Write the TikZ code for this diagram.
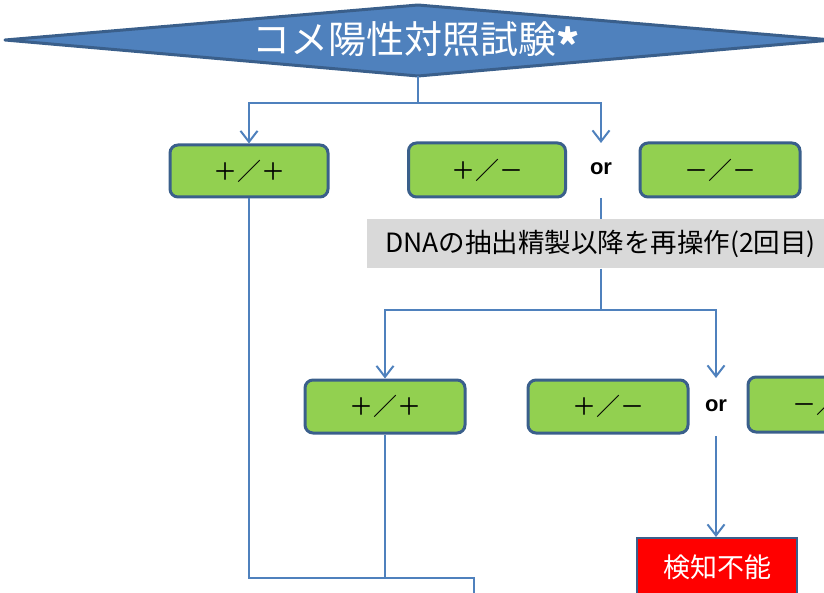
\documentclass[tikz,border=0pt]{standalone}
\usepackage{fontspec}
\newfontfamily\jp{Noto Sans CJK JP}
\newfontfamily\orfont{Liberation Sans}
\usetikzlibrary{arrows.meta}
\definecolor{linec}{HTML}{4F81BD}
\definecolor{bordc}{HTML}{3A5F8B}
\definecolor{greenf}{HTML}{92D050}
\definecolor{grayf}{HTML}{D9D9D9}
\definecolor{redf}{HTML}{FF0000}
\tikzset{
  res/.style={draw=bordc, line width=3pt, fill=greenf, rounded corners=8pt,
    minimum width=158pt, minimum height=52pt, inner sep=0pt,
    font=\jp\fontsize{24}{24}\selectfont},
  conn/.style={draw=linec, line width=2.4pt},
  arr/.style={conn, -{Straight Barb[length=11pt,width=17pt,line width=2pt]}},
  ortext/.style={font=\orfont\bfseries\fontsize{22}{22}\selectfont, inner sep=0pt},
}
\begin{document}
\begin{tikzpicture}[x=1pt,y=-1pt]
\useasboundingbox (0,0) rectangle (824,593);
% decision diamond
\coordinate (dl) at (5,40);
\coordinate (dt) at (418,5);
\coordinate (dr) at (832,40);
\coordinate (db) at (418,76);
\filldraw[fill=linec, draw=bordc, line width=3pt, line join=round] (dl) -- (dt) -- (dr) -- (db) -- cycle;
\node[text=white, font=\jp\fontsize{38}{38}\selectfont, inner sep=0pt] (title) at (416,42) {コメ陽性対照試験\raisebox{-0.22em}{\bfseries\fontsize{44}{44}\selectfont*}};
% first row
\node[res] (a1) at (249,171) {＋／＋};
\node[res, minimum width=157pt, minimum height=54pt] (a2) at (487,170) {＋／－};
\node[ortext] (or1) at (601,169) {or};
\node[res, minimum width=160pt, minimum height=54pt] (a3) at (720,170) {－／－};
\coordinate (j1) at (418,103);
\coordinate (or1t) at (601,143);
\coordinate (or1b) at (601,198);
\draw[conn] (db) -- (j1);
\draw[arr] (j1) -| (a1.north);
\draw[arr] (j1) -| (or1t);
% redo box
\node[fill=grayf, anchor=west, inner xsep=18pt, minimum height=49pt, text width=470pt, align=left,
      font=\jp\fontsize{26.5}{26.5}\selectfont] (redo) at (367,244) {DNAの抽出精製以降を再操作(2回目)};
\draw[conn] (or1b) -- (or1b |- redo.north);
\coordinate (j2) at (601,310);
\draw[conn] (redo.south -| j2) -- (j2);
% second row
\node[res, minimum width=160pt, minimum height=53pt] (b1) at (385,406.5) {＋／＋};
\node[res, minimum width=160pt, minimum height=53pt] (b2) at (608,406.5) {＋／－};
\node[ortext] (or2) at (716,406) {or};
\node[res, minimum width=160pt, minimum height=55pt] (b3) at (828,404.5) {－／－};
\draw[arr] (j2) -| (b1.north);
\coordinate (or2t) at (716,378);
\draw[arr] (j2) -| (or2t);
% not detectable
\node[draw=bordc, line width=2pt, fill=redf, text=white, minimum width=160pt, minimum height=58pt,
      inner sep=0pt, font=\jp\fontsize{27}{27}\selectfont] (nd) at (717,567) {検知不能};
\coordinate (or2b) at (716,436);
\draw[arr] (or2b) -- (or2b |- nd.north);
% merge line to bottom
\coordinate (jb) at (474,578);
\coordinate (jend) at (474,600);
\draw[conn] (a1.south) |- (jb) -- (jend);
\draw[conn] (b1.south) -- (b1.south |- jb);
\end{tikzpicture}
\end{document}
